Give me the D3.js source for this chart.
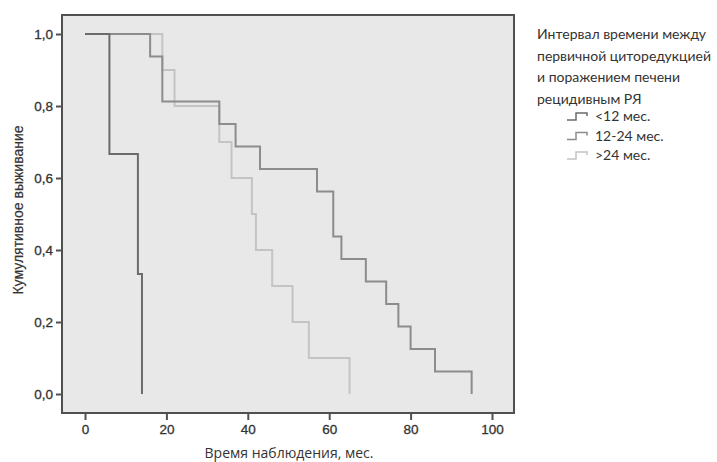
<!DOCTYPE html>
<html>
<head>
<meta charset="utf-8">
<script src="https://cdn.jsdelivr.net/npm/d3@7"></script>
<style>
    body { margin: 0; background: #fff; }
    .tick-label { font-family: "Liberation Sans", Arial, sans-serif; font-size: 13.5px; fill: #333; stroke: #333; stroke-width: 0.3; }
    .axis-title { font-family: "Liberation Sans", Arial, sans-serif; font-size: 14px; fill: #333; stroke: #333; stroke-width: 0.2; }
    .x-title { font-family: "Open Sans", sans-serif; font-size: 14px; fill: #333; }
    .legend-text { font-family: Lato, "Open Sans", sans-serif; font-size: 14px; fill: #333; }
</style>
</head>
<body>
<div id="chart"></div>
<script>
"use strict"

// Kaplan-Meier curves (months, cumulative survival)
const groupNames = ["<12 мес.", "12-24 мес.", ">24 мес."]
const timesLt12 = [0, 6, 13, 14]
const survLt12 = [1, 0.667, 0.333, 0]
const times12to24 = [0, 16, 19, 33, 37, 43, 57, 61, 63, 69, 74, 77, 80, 86, 95]
const surv12to24 = [1, 0.9375, 0.8125, 0.75, 0.6875, 0.625, 0.5625, 0.4375, 0.375, 0.3125, 0.25, 0.1875, 0.125, 0.0625, 0]
const timesGt24 = [0, 19, 22, 33, 36, 41, 42, 46, 51, 55, 65]
const survGt24 = [1, 0.9, 0.8, 0.7, 0.6, 0.5, 0.4, 0.3, 0.2, 0.1, 0]
const xTicks = [0, 20, 40, 60, 80, 100]
const yTicks = [0, 0.2, 0.4, 0.6, 0.8, 1.0]
const legendTitle = ["Интервал времени между", "первичной циторедукцией", "и поражением печени", "рецидивным РЯ"]

const chart = {
    w: 717, h: 462,
    frame: { l: 62, r: 514, t: 15, b: 413 },
    colors: ["#6b6b6b", "#8c8c8c", "#c4c4c4"]
}

const series = [
    { name: groupNames[0], pts: timesLt12.map((t, i) => ({ t: t, s: survLt12[i] })) },
    { name: groupNames[1], pts: times12to24.map((t, i) => ({ t: t, s: surv12to24[i] })) },
    { name: groupNames[2], pts: timesGt24.map((t, i) => ({ t: t, s: survGt24[i] })) },
]

const x = d3.scaleLinear().domain([0, 100]).range([85, 492])
const y = d3.scaleLinear().domain([0, 1]).range([394, 34])

const svg = d3.select("#chart")
    .append("svg")
        .attr("width", chart.w)
        .attr("height", chart.h)
        .attr("viewBox", `0 0 ${ chart.w } ${ chart.h }`)

// plot area
const f = chart.frame
svg.append("rect")
    .attr("x", f.l).attr("y", f.t)
    .attr("width", f.r - f.l).attr("height", f.b - f.t)
    .attr("fill", "#e8e8e8")

// curves
const line = d3.line()
    .x(d => x(d.t))
    .y(d => y(d.s))
    .curve(d3.curveStepAfter)

svg.selectAll(".km")
    .data(series.slice().reverse())
    .enter().append("path")
        .attr("class", "km")
        .attr("fill", "none")
        .attr("stroke", d => chart.colors[groupNames.indexOf(d.name)])
        .attr("stroke-width", 2)
        .attr("d", d => line(d.pts))

// frame
svg.append("rect")
    .attr("x", f.l).attr("y", f.t)
    .attr("width", f.r - f.l).attr("height", f.b - f.t)
    .attr("fill", "none")
    .attr("stroke", "#505050")
    .attr("stroke-width", 2)

// y axis
const yAxis = svg.append("g").attr("transform", `translate(${ f.l }, 0)`)
    .call(d3.axisLeft(y).tickValues(yTicks).tickSize(6).tickPadding(3)
        .tickFormat(d => d3.format(".1f")(d).replace(".", ",")))
yAxis.select(".domain").remove()
yAxis.selectAll(".tick line").attr("stroke", "#505050").attr("stroke-width", 2)
yAxis.selectAll(".tick text").attr("class", "tick-label").attr("font-size", null).attr("font-family", null)

// x axis
const xAxis = svg.append("g").attr("transform", `translate(0, ${ f.b })`)
    .call(d3.axisBottom(x).tickValues(xTicks).tickSize(7).tickPadding(4))
xAxis.select(".domain").remove()
xAxis.selectAll(".tick line").attr("stroke", "#505050").attr("stroke-width", 2)
xAxis.selectAll(".tick text").attr("class", "tick-label").attr("font-size", null).attr("font-family", null)

// axis titles
svg.append("text")
    .attr("class", "axis-title")
    .attr("text-anchor", "middle")
    .attr("transform", `translate(23, 210) rotate(-90)`)
    .text("Кумулятивное выживание")

svg.append("text")
    .attr("class", "x-title")
    .attr("text-anchor", "middle")
    .attr("x", 289).attr("y", 458)
    .text("Время наблюдения, мес.")

// legend
const legend = svg.append("g").attr("transform", "translate(537, 0)")
legend.selectAll(".legend-title")
    .data(legendTitle)
    .enter().append("text")
        .attr("class", "legend-text")
        .attr("x", 0)
        .attr("y", (d, i) => 39 + i * 21.5)
        .text(d => d)

const items = legend.selectAll(".legend-item")
    .data(groupNames)
    .enter().append("g")
        .attr("transform", (d, i) => `translate(30, ${ 115 + i * 19.5 })`)
items.append("path")
    .attr("fill", "none")
    .attr("stroke", (d, i) => chart.colors[i])
    .attr("stroke-width", 1.5)
    .attr("d", "M0,5 H9 V-2 H20 V1")
items.append("text")
    .attr("class", "legend-text")
    .attr("x", 28).attr("y", 6)
    .text(d => d)
</script>
</body>
</html>
